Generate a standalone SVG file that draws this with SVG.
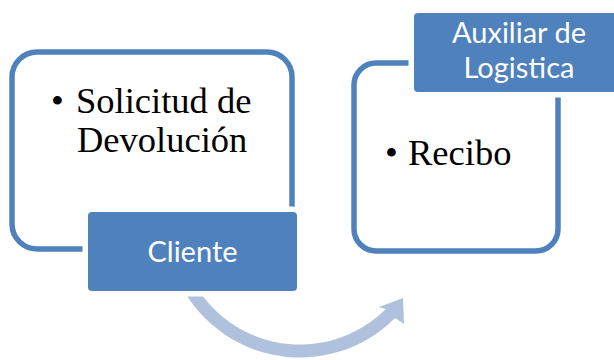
<svg xmlns="http://www.w3.org/2000/svg" width="614" height="360" viewBox="0 0 614 360">
  <style>
    .frame { fill: #ffffff; stroke: #4f81bd; stroke-width: 5.5; }
    .tab { fill: #4f81bd; stroke: #ffffff; stroke-width: 11; paint-order: stroke; }
    .body { font-family: "Liberation Serif", "Times New Roman", serif; font-size: 36.5px; fill: #000000; }
    .tabtext { font-family: Lato, "Liberation Sans", sans-serif; font-size: 29px; fill: #ffffff; text-anchor: middle; }
    .arrow { fill: #b0c1dd; stroke: none; }
  </style>
  <rect width="614" height="360" fill="#ffffff"/>
  <g id="connectors">
    <path class="arrow" d="M173.6,269 A134.5,134.5 0 0 0 395.1,318.1 L404,324 L403,298 L379,307 L385.9,308.9 A121.5,121.5 0 0 1 185.8,264.6 Z"/>
  </g>
  <g id="node-solicitud">
    <rect class="frame" x="12" y="52" width="280" height="197" rx="25" ry="25"/>
    <text class="body" x="51" y="113">•</text>
    <text class="body" x="76" y="113">Solicitud de</text>
    <text class="body" x="77" y="152">Devolución</text>
  </g>
  <g id="node-cliente">
    <rect class="tab" x="88" y="212" width="209" height="79" rx="4" ry="4"/>
    <text class="tabtext" x="192.5" y="262">Cliente</text>
  </g>
  <g id="node-recibo">
    <rect class="frame" x="354" y="63" width="204" height="188" rx="22" ry="22"/>
    <text class="body" x="385" y="165">•</text>
    <text class="body" x="408" y="165">Recibo</text>
  </g>
  <g id="node-auxiliar">
    <rect class="tab" x="414" y="13" width="209" height="79" rx="4" ry="4"/>
    <text class="tabtext" x="519" y="43">Auxiliar de</text>
    <text class="tabtext" x="519" y="78">Logistica</text>
  </g>
</svg>
